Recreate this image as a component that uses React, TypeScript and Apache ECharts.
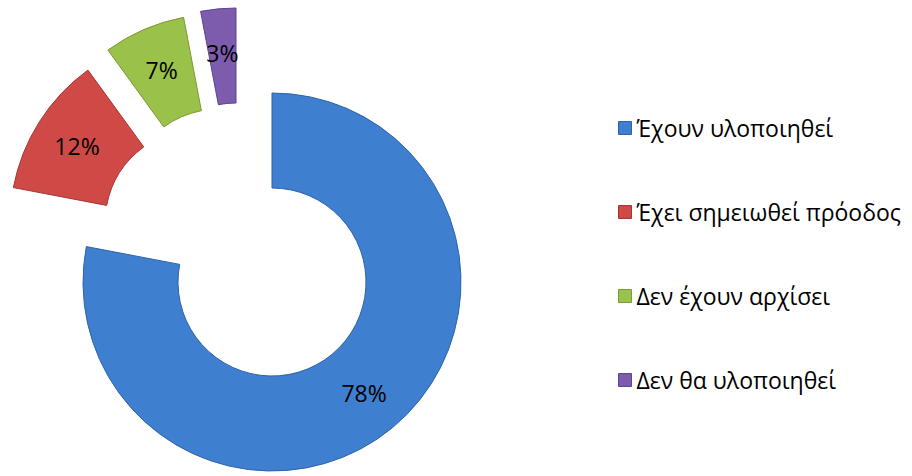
import React, { useEffect, useRef } from "react";
import * as echarts from "echarts";

const categories = [
  "Έχουν υλοποιηθεί",
  "Έχει σημειωθεί πρόοδος",
  "Δεν έχουν αρχίσει",
  "Δεν θα υλοποιηθεί",
];
const values = [78, 12, 7, 3];
const colors = ["#3f7fcf", "#cf4a47", "#9ac14a", "#7d5cae"];
const borders = ["#2f63a8", "#a83532", "#7a9a35", "#5e4390"];
const centers: [number, number][] = [
  [272, 282],
  [199, 223],
  [219, 203],
  [236, 197],
];

const FONT = "'Open Sans', 'Noto Sans', sans-serif";

export default function App() {
  const ref = useRef<HTMLDivElement>(null);
  useEffect(() => {
    if (!ref.current) return;
    const chart = echarts.init(ref.current, undefined, { renderer: "svg" });
    const series = values.map((_, i) => ({
      type: "pie",
      center: centers[i],
      radius: [94, 189],
      startAngle: 90,
      clockwise: true,
      silent: true,
      avoidLabelOverlap: false,
      label: { show: false },
      labelLine: { show: false },
      data: categories.map((name, j) => ({
        name,
        value: values[j],
        itemStyle:
          j === i
            ? { color: colors[j], borderColor: borders[j], borderWidth: 1 }
            : { color: "rgba(0,0,0,0)", borderWidth: 0 },
        label:
          j === i
            ? {
                show: true,
                position: "inside",
                formatter: "{c}%",
                color: "#000",
                fontSize: 23,
                fontFamily: FONT,
              }
            : { show: false },
      })),
    }));
    chart.setOption({
      animation: false,
      backgroundColor: "#fff",
      legend: {
        orient: "vertical",
        left: 613,
        top: 110,
        icon: "rect",
        itemWidth: 13,
        itemHeight: 13,
        itemGap: 58,
        selectedMode: false,
        textStyle: { fontSize: 23, lineHeight: 26, color: "#000", fontFamily: FONT },
        data: categories.map((name, j) => ({
          name,
          itemStyle: { color: colors[j], borderColor: borders[j], borderWidth: 1 },
        })),
      },
      series,
    });
    return () => chart.dispose();
  }, []);
  return (
    <div
      ref={ref}
      style={{ position: "absolute", left: 0, top: 0, width: 912, height: 476 }}
    />
  );
}
